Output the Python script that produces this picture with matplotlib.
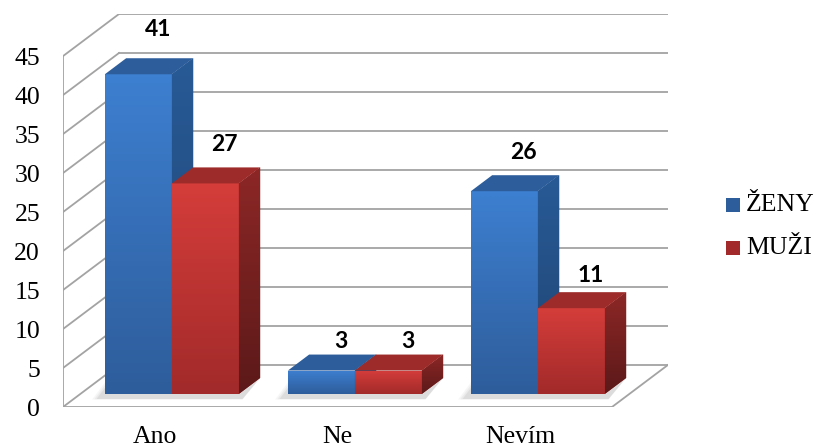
import numpy as np
import matplotlib
matplotlib.use('Agg')
from matplotlib import pyplot as plt
from matplotlib.patches import Polygon, Rectangle
from matplotlib.colors import LinearSegmentedColormap

categories = ['Ano', 'Ne', 'Nevím']
series_names = ['ŽENY', 'MUŽI']
zeny = [41, 3, 26]
muzi = [27, 3, 11]
yticks = list(range(0, 50, 5))

# colours: front top, front bottom, side top, side bottom, top face
blue = ['#3d7fd0', '#2e5d9b', '#285a96', '#1f4472', '#2d5e9b']
red = ['#d43d3a', '#a22a2a', '#8c2726', '#5c1919', '#9c2b29']

DX, DY = 0.306, 5.4      # depth of the floor in data units
F0 = 0.31                # front of bars inside the floor depth
BD = 0.38                # depth of the bars (fraction)
W = 0.366                # bar width
GRID = '#a3a3a3'
SERIF = 'Liberation Serif'

fig = plt.figure(figsize=(8.17, 4.47), dpi=100)
ax = fig.add_axes([63/817, 40/447, 605/817, 393/447])
ax.set_facecolor('none')
for s in ax.spines.values():
    s.set_visible(False)


def grad_fill(patch, c_top, c_bot, z):
    # vertical gradient clipped to the patch
    ax.add_patch(patch)
    ext = patch.get_path().get_extents(patch.get_transform() - ax.transData)
    cmap = LinearSegmentedColormap.from_list('g', [c_bot, c_top])
    im = ax.imshow(np.linspace(0, 1, 64).reshape(-1, 1), cmap=cmap, origin='lower',
                   extent=[ext.x0, ext.x1, ext.y0, ext.y1], aspect='auto', zorder=z,
                   interpolation='bicubic')
    im.set_clip_path(patch)


# walls and floor
for v in yticks:
    ax.plot([-0.5 + DX, 2.5 + DX], [v + DY, v + DY], color=GRID, lw=1.3, zorder=1)
    ax.plot([-0.5, -0.5 + DX], [v, v + DY], color=GRID, lw=1.3, zorder=1)
ax.plot([-0.5, -0.5], [0, 45], color=GRID, lw=1.3, zorder=1)
ax.plot([-0.5, 2.5], [0, 0], color=GRID, lw=1.3, zorder=1)
ax.plot([2.5, 2.5 + DX], [0, DY], color=GRID, lw=1.3, zorder=1)

bdx, bdy = BD * DX, BD * DY
base = F0 * DY
z = 10
x = np.arange(len(categories))
for i in range(len(categories)):
    # soft shadow on the floor
    sx0 = x[i] - W + F0 * DX
    for k, a in enumerate([0.05, 0.07, 0.1]):
        e = 0.04 - 0.012 * k
        ax.add_patch(Polygon([(sx0 - e - 0.03, base - 0.6 - 3 * e), (sx0 + 2 * W + 0.02, base - 0.6 - 3 * e),
                              (sx0 + 2 * W + bdx, base + bdy), (sx0 - e + bdx * 0.5, base + bdy)],
                             closed=True, color='#606060', alpha=a, lw=0, zorder=5))
    for j, (vals, col) in enumerate([(zeny, blue), (muzi, red)]):
        v = vals[i]
        x0 = x[i] - W + j * W + F0 * DX
        x1 = x0 + W
        top = base + v
        bar = ax.bar(x0, v, width=W, bottom=base, align='edge', color=col[0], lw=0, zorder=z)[0]
        grad_fill(bar, col[0], col[1], z)
        side = Polygon([(x1, base), (x1 + bdx, base + bdy), (x1 + bdx, top + bdy), (x1, top)],
                       closed=True, color=col[2], lw=0, zorder=z + 1)
        grad_fill(side, col[2], col[3], z + 1)
        ax.add_patch(Polygon([(x0, top), (x0 + bdx, top + bdy), (x1 + bdx, top + bdy), (x1, top)],
                             closed=True, color=col[4], lw=0, zorder=z + 2))
        ax.annotate(str(v), xy=(x0 + W / 2 + bdx, top + bdy), xytext=(-2, 12 + 0.4 * v),
                    textcoords='offset pixels', ha='center', va='center',
                    fontsize=16.5, fontweight='bold', family='Lato', zorder=50)
        z += 3

ax.set_xlim(-0.5, 2.5 + DX)
ax.set_ylim(0, 45 + DY)
ax.set_xticks(x, categories)
ax.set_yticks(yticks)
ax.tick_params(length=0)
ax.tick_params(axis='y', pad=16.5)
ax.tick_params(axis='x', pad=14)
for lab in ax.get_xticklabels() + ax.get_yticklabels():
    lab.set_family(SERIF)
    lab.set_fontsize(18.5)

# legend
for name, col, yc in zip(series_names, [blue, red], [205, 248]):
    fig.add_artist(Rectangle((726/817, 1 - (yc + 7)/447), 14/817, 14/447,
                             transform=fig.transFigure, color=col[1], lw=0))
    fig.text(746/817, 1 - yc/447, name, va='center', ha='left',
             family=SERIF, fontsize=18.5)

fig.savefig('out.png', dpi=100)
